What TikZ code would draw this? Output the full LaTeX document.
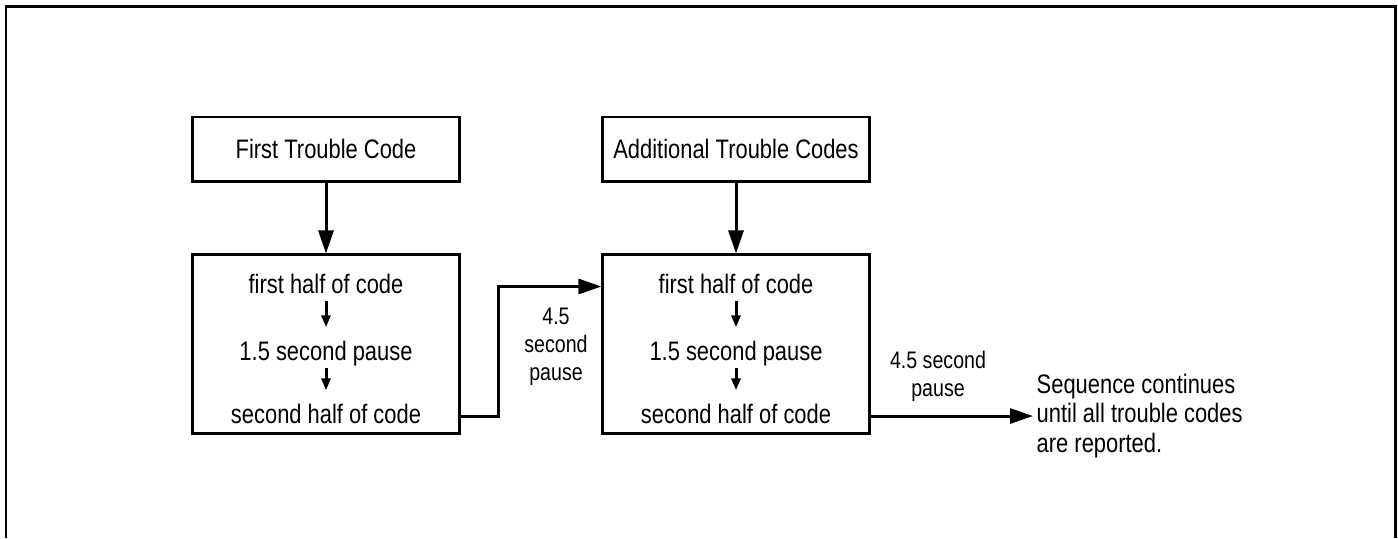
\documentclass[tikz,border=0pt]{standalone}
\usepackage{fontspec}
\setmainfont[FakeStretch=0.82]{Liberation Sans}
\usetikzlibrary{arrows.meta}

\tikzset{
  codebox/.style={draw, line width=0.85pt, minimum width=2.66cm, inner sep=0pt},
  codetext/.style={inner sep=0pt, text height=0.19cm, text depth=0.06cm},
  pausetext/.style={inner sep=0pt, align=center, font=\fontsize{6.8}{7.97}\selectfont},
  flow/.style={line width=0.85pt, -{Triangle[length=0.23cm,width=0.15cm]}},
  halfarrow/.style={line width=0.85pt, -{Triangle[length=0.12cm,width=0.09cm]},
    shorten <=0.01cm, shorten >=0.13cm}
}

\begin{document}
\begin{tikzpicture}[x=0.01cm, y=-0.01cm, font=\fontsize{7.6}{8.5}\selectfont]
\useasboundingbox (0,0) rectangle (1398,538);

% frame, open at the bottom
\draw[line width=0.85pt] (6,538) -- (6,6) -- (1395,6) -- (1395,538);

% first trouble code
\node[codebox, minimum height=0.64cm] (first) at (326,149) {First Trouble Code};
\node[codebox, minimum height=1.78cm] (firstseq) at (326,344) {};
\node[codetext, anchor=base] (fh1) at (326,293) {first half of code};
\node[codetext, anchor=base] (pause1) at (326,360) {1.5 second pause};
\node[codetext, anchor=base] (sh1) at (326,423) {second half of code};

\draw[flow] (first) -- (firstseq);
\draw[halfarrow] (fh1) -- (pause1);
\draw[halfarrow] (pause1) -- (sh1);

% additional trouble codes
\node[codebox, minimum height=0.64cm] (next) at (736,149) {Additional Trouble Codes};
\node[codebox, minimum height=1.78cm] (nextseq) at (736,344) {};
\node[codetext, anchor=base] (fh2) at (736,293) {first half of code};
\node[codetext, anchor=base] (pause2) at (736,360) {1.5 second pause};
\node[codetext, anchor=base] (sh2) at (736,423) {second half of code};

\draw[flow] (next) -- (nextseq);
\draw[halfarrow] (fh2) -- (pause2);
\draw[halfarrow] (pause2) -- (sh2);

% pauses between codes
\draw[flow] (firstseq.east |- sh1) -- ++(38,0) |- (nextseq.west |- fh2);
\node[pausetext] (gap1) at (556,347) {4.5\\second\\pause};

\node[inner sep=0.03cm, anchor=west, align=left] (note) at (1033,416)
  {Sequence continues\\until all trouble codes\\are reported.};
\draw[flow] (nextseq.east |- note.west) -- (note.west);
\node[pausetext] (gap2) at (938,376) {4.5 second\\pause};
\end{tikzpicture}
\end{document}
